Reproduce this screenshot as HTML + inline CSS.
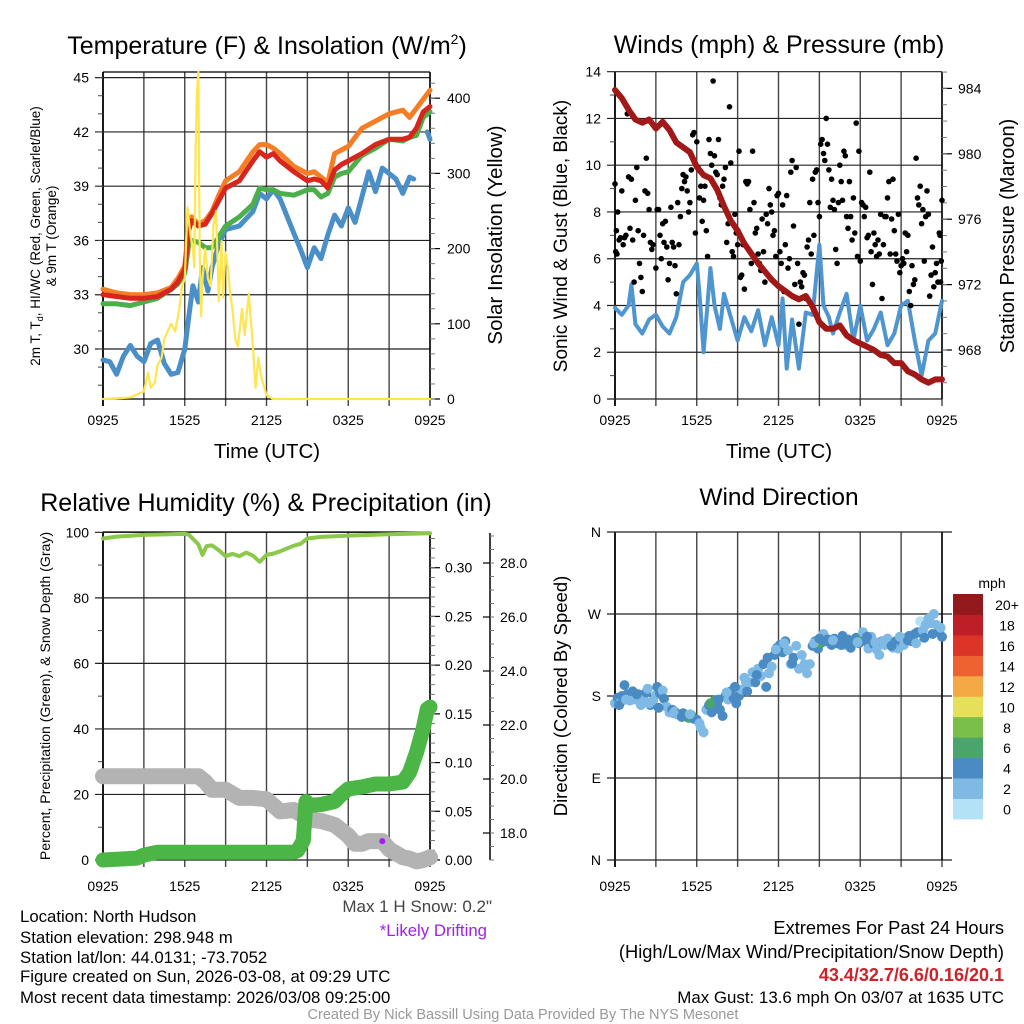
<!DOCTYPE html>
<html><head><meta charset="utf-8"><style>
html,body{margin:0;padding:0;background:#fff;}
svg{display:block;font-family:"Liberation Sans",Arial,sans-serif;}
</style></head><body>
<svg id="fig" width="1024" height="1024" viewBox="0 0 1024 1024" xmlns="http://www.w3.org/2000/svg">
<g id="static">
<text x="267" y="54" font-size="25" text-anchor="middle">Temperature (F) &amp; Insolation (W/m<tspan font-size="14" dy="-10">2</tspan><tspan dy="10">)</tspan></text>
<text x="779" y="53" font-size="25" text-anchor="middle">Winds (mph) &amp; Pressure (mb)</text>
<text x="266" y="511" font-size="25" text-anchor="middle">Relative Humidity (%) &amp; Precipitation (in)</text>
<text x="779" y="505" font-size="24.5" text-anchor="middle">Wind Direction</text>
<text x="267" y="458" font-size="20.5" text-anchor="middle">Time (UTC)</text>
<text x="779" y="458" font-size="20.5" text-anchor="middle">Time (UTC)</text>
<text transform="translate(40,236) rotate(-90)" font-size="13.5" text-anchor="middle">2m T, T<tspan font-size="9" dy="3">d</tspan><tspan dy="-3">, HI/WC (Red, Green, Scarlet/Blue)</tspan></text>
<text transform="translate(56,236) rotate(-90)" font-size="13.5" text-anchor="middle">&amp; 9m T (Orange)</text>
<text transform="translate(502,235) rotate(-90)" font-size="20.5" text-anchor="middle">Solar Insolation (Yellow)</text>
<text transform="translate(567,236) rotate(-90)" font-size="19" text-anchor="middle">Sonic Wind &amp; Gust (Blue, Black)</text>
<text transform="translate(1014,236) rotate(-90)" font-size="20" text-anchor="middle">Station Pressure (Maroon)</text>
<text transform="translate(50,696) rotate(-90)" font-size="14.1" text-anchor="middle">Percent, Precipitation (Green), &amp; Snow Depth (Gray)</text>
<text transform="translate(567,696) rotate(-90)" font-size="18.5" text-anchor="middle">Direction (Colored By Speed)</text>
<text x="992" y="588" font-size="14" text-anchor="middle">mph</text>
<text x="492" y="912" font-size="17" text-anchor="end" fill="#444">Max 1 H Snow: 0.2"</text>
<text x="487" y="936" font-size="16.8" text-anchor="end" fill="#a020f0">*Likely Drifting</text>
<g font-size="16.8">
<text x="20" y="922">Location: North Hudson</text>
<text x="20" y="943">Station elevation: 298.948 m</text>
<text x="20" y="963">Station lat/lon: 44.0131; -73.7052</text>
<text x="20" y="982">Figure created on Sun, 2026-03-08, at 09:29 UTC</text>
<text x="20" y="1003">Most recent data timestamp: 2026/03/08 09:25:00</text>
</g>
<g text-anchor="end">
<text x="1004" y="934" font-size="18.3">Extremes For Past 24 Hours</text>
<text x="1004" y="958" font-size="18.3">(High/Low/Max Wind/Precipitation/Snow Depth)</text>
<text x="1004" y="981" font-size="18" fill="#cc2229" font-weight="bold">43.4/32.7/6.6/0.16/20.1</text>
<text x="1004" y="1003" font-size="16.9">Max Gust: 13.6 mph On 03/07 at 1635 UTC</text>
</g>
<text x="523" y="1019" font-size="14.5" text-anchor="middle" fill="#999">Created By Nick Bassill Using Data Provided By The NYS Mesonet</text>
</g>
</svg>
<script>
// ---------- data ----------
const tempHours = [0,1,2,3,4,5,5.5,6,6.3,6.5,7,7.5,8,8.5,9,10,11,11.5,12,12.5,13,14,15,15.5,16,16.5,17,17.5,18,19,20,21,22,22.5,23,23.5,24];
const temp2m = [33.0,32.9,32.8,32.8,32.9,33.3,33.7,34.4,36.6,37.1,36.8,36.9,37.5,38.2,38.9,39.3,40.4,40.9,40.6,40.8,40.4,39.8,39.3,39.4,39.3,38.9,39.9,40.2,40.4,40.8,41.3,41.6,41.6,41.7,42.2,43.1,43.4];
const temp9m = [33.3,33.1,33.0,33.0,33.1,33.4,33.9,34.6,36.8,37.3,36.9,37.1,37.6,38.5,39.3,39.8,40.9,41.3,41.3,41.1,40.8,40.1,39.7,39.8,39.5,39.2,40.8,41.0,41.2,42.2,42.6,43.0,43.2,42.8,43.3,43.8,44.3];
const dewpoint = [32.5,32.5,32.4,32.6,32.8,33.3,33.6,34.2,35.8,36.0,35.9,35.6,35.6,36.2,36.8,37.3,38.0,38.9,38.8,38.8,38.6,38.5,38.8,38.8,38.4,38.6,39.5,39.7,39.8,40.7,41.1,41.6,41.5,41.7,41.8,42.8,43.1];
const wcHours = [0,0.5,1,1.5,2,2.5,3,3.5,4,4.5,5,5.5,6,6.3,6.6,7,7.3,7.7,8,8.5,9,10,11,11.5,12,12.5,13,14,14.5,15,15.5,16,16.5,17,17.5,18,18.5,19,19.5,20,20.5,21,21.5,22,22.5,22.8,null,23.8,24];
const windChill = [29.4,29.3,28.6,29.6,30.2,29.6,29.3,30.3,30.5,29.2,28.6,28.7,30.0,31.8,33.5,32.6,34.5,33.2,34.5,35.8,36.6,36.8,37.6,38.6,38.3,38.8,38.3,36.4,35.5,34.5,35.6,35.0,36.3,37.4,36.8,37.8,37.0,38.4,39.8,38.7,40.0,39.7,39.4,38.6,39.5,39.4,null,42.0,41.6];
const solarHours = [0,2,3,3.3,3.5,3.8,4,4.3,4.5,5,5.3,5.6,5.8,6,6.2,6.4,6.6,6.7,6.8,6.9,7.0,7.05,7.1,7.2,7.3,7.5,7.7,7.9,8.1,8.3,8.5,8.7,8.8,9.0,9.2,9.3,9.5,9.7,9.9,10.2,10.4,10.7,11,11.2,11.4,11.6,12,12.5,24];
const solar = [0,2,10,35,15,22,45,55,80,100,90,120,150,160,255,220,200,175,330,410,435,300,200,110,160,200,160,150,230,250,130,210,135,195,170,145,120,80,70,120,85,140,70,15,55,30,5,0,0];
const windHours = [0,0.5,1,1.2,1.5,2,2.5,3,3.5,4,4.5,5,5.5,6,6.2,6.5,7,7.3,7.7,8,8.5,9,9.5,10,10.5,11,11.5,12,12.3,12.6,13,13.5,14,14.5,15,15.3,15.7,16,16.5,17,17.5,18,18.5,19,19.5,20,20.5,21,21.5,22,22.5,23,23.5,24];
const windSpeed = [3.9,3.6,4.0,4.9,3.2,2.8,3.4,3.6,3.1,2.8,3.5,5.0,5.3,5.8,4.5,2.0,5.6,4.0,3.0,4.5,3.5,2.5,3.5,2.9,3.8,2.3,3.5,2.3,4.3,1.3,3.4,1.3,3.7,3.6,6.6,4.0,3.5,2.8,3.7,4.5,2.5,4.0,2.5,3.0,3.7,2.3,2.8,4.0,4.2,2.5,1.0,2.5,2.8,4.2];
const presHours = [0,0.5,1,1.5,2,2.5,3,3.5,4,4.5,5,5.5,6,6.5,7,7.5,8,8.5,9,9.5,10,10.5,11,11.5,12,12.5,13,13.5,14,14.5,15,15.5,16,16.5,17,17.5,18,18.5,19,19.5,20,20.5,21,21.5,22,22.5,23,23.5,24];
const pressure = [983.9,983.4,982.7,982.1,981.9,982.1,981.55,981.96,981.45,980.7,980.4,980.1,979.2,978.7,978.5,977.8,976.8,975.9,975.3,974.5,973.9,973.3,972.8,972.3,971.9,971.6,971.3,971.1,971.3,970.65,969.7,969.3,969.3,969.5,968.9,968.6,968.4,968.2,968.0,967.7,967.6,967.2,967.2,966.7,966.5,966.2,966.0,966.2,966.2];
const gustHours = [0,0.05,0.1,0.15,0.2,0.3,0.4,0.5,0.6,0.7,0.8,0.9,1.0,1.1,1.2,1.3,1.4,1.5,1.6,1.7,1.8,1.9,2.0,2.1,2.2,2.3,2.4,2.5,2.6,2.7,2.8,3.0,3.1,3.2,3.3,3.4,3.5,3.6,3.7,3.8,3.9,4.0,4.1,4.2,4.3,4.4,4.5,4.6,4.7,4.8,4.9,5.0,5.1,5.2,5.3,5.4,5.5,5.6,5.7,5.8,5.9,6.0,6.1,6.2,6.3,6.4,6.5,6.6,6.7,6.8,6.9,7.0,7.1,7.2,7.3,7.4,7.5,7.6,7.7,7.8,7.9,8.0,8.1,8.2,8.3,8.4,8.5,8.6,8.7,8.8,8.9,9.0,9.1,9.2,9.3,9.4,9.5,9.6,9.7,9.8,9.9,10.0,10.1,10.2,10.3,10.4,10.5,10.6,10.7,10.8,10.9,11.0,11.1,11.2,11.3,11.4,11.5,11.6,11.7,11.8,11.9,12.0,12.1,12.2,12.3,12.4,12.5,12.6,12.7,12.8,12.9,13.0,13.1,13.2,13.3,13.4,13.5,13.6,13.7,13.8,13.9,14.0,14.1,14.2,14.3,14.4,14.5,14.6,14.7,14.8,14.9,15.0,15.1,15.2,15.3,15.4,15.5,15.6,15.7,15.8,15.9,16.0,16.1,16.2,16.3,16.4,16.5,16.6,16.7,16.8,16.9,17.0,17.1,17.2,17.3,17.4,17.5,17.6,17.7,17.8,17.9,18.0,18.1,18.2,18.3,18.4,18.5,18.6,18.7,18.8,18.9,19.0,19.1,19.2,19.3,19.4,19.5,19.6,19.7,19.8,19.9,20.0,20.1,20.2,20.3,20.4,20.5,20.6,20.7,20.8,20.9,21.0,21.1,21.2,21.3,21.4,21.5,21.6,21.7,21.8,21.9,22.0,22.1,22.2,22.3,22.4,22.5,22.6,22.7,22.8,22.9,23.0,23.1,23.2,23.3,23.4,23.5,23.6,23.7,23.8,23.85,23.9,23.95,24.0];
const gust = [9.2,6.3,7.2,6.2,8.0,6.8,6.9,8.9,6.6,6.9,7.0,12.2,9.5,7.3,9.4,6.8,5.0,8.5,9.9,7.2,5.8,5.2,4.6,7.0,8.9,10.3,8.8,8.1,6.7,6.4,6.6,5.6,8.1,8.1,7.0,6.0,7.5,6.7,7.6,6.5,5.1,5.8,8.2,6.7,6.5,5.7,4.5,8.4,6.6,7.8,9.0,9.6,9.3,9.5,8.9,8.0,8.4,9.8,11.3,11.4,7.1,11.0,9.9,8.6,9.1,7.6,8.5,9.1,7.2,6.1,11.1,10.5,10.0,13.6,10.4,9.7,9.6,11.1,8.6,8.3,9.1,9.4,9.9,6.7,7.5,12.5,10.1,6.3,6.1,7.9,7.1,6.6,10.6,5.2,5.3,6.6,4.7,9.3,9.2,9.3,8.1,5.8,10.6,8.4,7.1,7.3,6.2,5.8,5.5,7.7,6.3,5.0,7.9,7.5,9.0,8.3,8.0,7.0,7.2,6.1,8.7,8.8,6.3,5.8,8.3,4.6,6.6,8.7,5.6,6.0,9.7,10.2,7.4,4.9,9.9,5.8,3.2,5.0,4.8,5.4,5.3,4.3,6.5,6.8,8.4,6.2,9.4,7.0,9.7,9.8,8.4,7.8,10.9,11.1,10.5,10.2,12.0,10.9,9.8,8.2,9.4,8.5,8.1,6.4,5.8,8.4,10.0,9.3,8.5,10.6,10.4,7.8,7.3,9.3,7.8,6.8,8.6,7.1,11.8,6.1,10.6,5.9,8.4,8.3,7.8,8.2,6.9,7.0,9.7,6.3,4.9,7.1,6.6,6.1,6.8,6.2,7.9,4.3,6.6,7.8,7.8,8.6,9.3,6.2,7.7,9.4,7.2,6.2,5.9,7.9,5.4,5.7,6.0,5.8,7.1,6.3,7.0,4.6,4.0,5.7,4.9,5.1,10.3,8.6,8.3,9.1,7.5,8.1,5.9,7.8,8.9,7.9,4.4,5.3,6.5,4.8,5.4,5.8,5.0,7.1,7.0,5.0,5.9,8.5];
const rhHours = [0,1,3,6,6.3,7,7.3,7.6,8,8.5,9,9.5,10,10.5,11,11.5,12,12.5,13,14,14.5,15,16,18,21,24];
const rh = [98.1,98.7,99.2,99.5,99.3,96.3,93.1,95.8,96.0,94.5,92.7,93.4,92.7,93.8,92.9,91.0,93.1,93.5,94.2,95.9,96.5,98.1,98.6,99.0,99.4,99.7];
const precipHours = [0,2.5,3,4,14,14.3,14.7,14.8,14.9,15.2,16,17,17.5,18,19,20,21,22,22.5,23,23.5,23.8,24];
const precip = [0,0.002,0.005,0.008,0.008,0.01,0.02,0.04,0.06,0.056,0.057,0.06,0.067,0.073,0.075,0.078,0.078,0.08,0.09,0.11,0.135,0.155,0.157];
const snowHours = [0,7,7.5,8,9,10,11,12,13,14,14.5,15,16,17,18,18.5,19,19.5,20,20.5,21,22,22.5,23,23.5,24];
const snowDepth = [20.1,20.1,19.9,19.6,19.6,19.3,19.3,19.25,18.8,18.85,18.7,18.5,18.45,18.3,17.9,17.6,17.6,17.7,17.7,17.7,17.4,17.1,17.05,16.95,17.0,17.1];
const driftHours = [20.5];
const driftDepth = [17.7];
const dirHours = [0,0.2,0.4,0.5,0.7,0.9,1.1,1.3,1.5,1.7,1.9,2.1,2.3,2.4,2.6,2.8,3.0,3.1,3.3,3.5,3.6,3.8,4.0,4.2,4.4,4.6,4.8,5.0,5.2,5.4,5.6,5.8,6.0,6.2,6.3,6.5,6.7,6.9,7.1,7.3,7.5,7.7,7.9,8.1,8.3,8.5,8.7,8.9,9.1,9.3,9.5,9.7,9.9,10.1,10.3,10.5,10.7,10.9,11.1,11.3,11.5,11.7,11.9,12.1,12.3,12.5,12.7,12.9,13.1,13.3,13.5,13.7,13.9,14.1,14.3,14.5,14.7,14.9,15.1,15.3,15.5,15.7,15.9,16.1,16.3,16.5,16.7,16.9,17.1,17.3,17.5,17.7,17.9,18.0,18.2,18.4,18.6,18.8,19.0,19.2,19.4,19.6,19.8,20.0,20.2,20.4,20.6,20.8,21.0,21.2,21.4,21.6,21.8,22.0,22.2,22.4,22.6,22.8,23.0,23.2,23.4,23.6,23.8,24,0.3,0.8,1.6,2.5,3.2,4.3,4.9,5.5,7.0,7.6,8.2,8.8,9.6,10.4,11.2,11.8,12.4,13.0,14.6,15.0,15.6,16.0,16.6,17.2,17.8,18.5,19.1,19.7,20.3,20.9,21.5,22.1,22.7,23.3,23.9];
const dirDeg = [172,178,173,180,192,182,175,185,176,182,170,178,184,188,170,175,181,190,183,186,177,168,162,165,163,160,158,161,158,156,159,155,154,150,145,140,165,170,162,175,170,165,158,180,176,185,178,172,180,187,200,185,195,206,195,210,202,215,190,205,212,225,233,236,228,240,230,215,222,235,210,225,215,205,215,235,240,232,238,248,240,242,236,243,238,240,246,236,242,233,240,244,238,241,250,240,232,245,237,231,225,240,236,243,238,233,240,232,240,236,244,246,240,248,250,262,252,258,265,260,270,258,250,245,170,176,182,172,167,161,157,160,172,176,184,190,196,203,222,231,238,216,238,243,242,241,236,237,239,245,239,240,235,245,241,238,244,248,255];
const dirSpeed = [3,4,3,4,4,4,2,4,3,4,2,3,4,2,4,3,3,4,4,2,4,2,3,4,2,4,3,4,6,6,6,4,4,2,2,2,3,4,4,6,4,4,4,4,2,4,4,4,4,2,2,4,2,3,4,2,2,4,4,2,2,4,4,4,4,4,2,2,4,2,3,2,2,2,2,4,4,4,6,2,4,2,4,4,4,4,4,2,4,4,4,4,4,6,2,4,2,2,4,2,2,4,2,3,2,2,4,3,4,2,3,4,4,4,4,1,2,2,2,2,2,2,4,4,4,2,4,2,4,3,4,2,6,4,2,4,2,4,4,2,2,4,2,4,4,2,4,4,2,4,2,3,4,2,4,2,4,4,2];
const colorbarLabels = ["0","2","4","6","8","10","12","14","16","18","20+"];
const colorbarColors = ["#b3e1f6","#7fbae5","#4a8bc4","#4aa56d","#7bbf4b","#e5df5a","#f5a946","#ee6130","#dc3426","#be1e26","#921a1d"];
const timeLabels = ["0925","1525","2125","0325","0925"];
const tempTicks = [30,33,36,39,42,45];
const solarTicks = [0,100,200,300,400];
const windTicks = [0,2,4,6,8,10,12,14];
const presTicks = [968,972,976,980,984];
const rhTicks = [0,20,40,60,80,100];
const precipTicks = [0,0.05,0.10,0.15,0.20,0.25,0.30];
const snowTicks = [18,20,22,24,26,28];
const dirTicks = ["N","E","S","W","N"];

// ---------- helpers ----------
const NS = "http://www.w3.org/2000/svg";
const svg = document.getElementById("fig");
function mk(tag, attrs, parent) {
  const e = document.createElementNS(NS, tag);
  for (const k in attrs) e.setAttribute(k, attrs[k]);
  (parent || svg).appendChild(e);
  return e;
}
function xs(x0) { return h => x0 + h / 24 * 327; }
const yTemp = t => 349 - (t - 30) * 18.09;
const ySolar = w => 399 - w * 0.752;
const yWind = m => 399 - m * 23.38;
const yPres = p => 350 - (p - 968) * 16.35;
const yRh = v => 860 - v * 3.277;
const yPrecip = p => 860 - p * 974.3;
const ySnow = s => 860 - (s - 17) * 27;
const yDir = d => 860 - d / 360 * 328;

function pathD(hs, vs, fx, fy) {
  let d = "", pen = false;
  for (let i = 0; i < hs.length; i++) {
    if (hs[i] === null || vs[i] === null) { pen = false; continue; }
    d += (pen ? "L" : "M") + fx(hs[i]).toFixed(1) + " " + fy(vs[i]).toFixed(1);
    pen = true;
  }
  return d;
}
function frame(x0, top, bottom, name, hGridVals, yf, hGridLabels, leftMinor, minorY) {
  const g = mk("g", {});
  
  
  for (let i = 0; i <= 8; i++) {
    const x = x0 + i * 327 / 8;
    const ln = mk("line", {x1: x, y1: top, x2: x, y2: bottom + 7, stroke: (i === 0 ? "#000" : "#444"), "stroke-width": (i === 0 ? 1.8 : 1.4)}, g);
    
    
    if (i % 2 === 0) {
      const t = mk("text", {x: x, y: 425, "font-size": 14, "text-anchor": "middle"}, g);
      
      
      t.textContent = timeLabels[i / 2];
      if (top > 450) t.setAttribute("y", 891);
    }
  }
  hGridVals.forEach((v, i) => {
    const y = yf(v);
    const ln = mk("line", {x1: x0 - 8, y1: y, x2: x0 + 327 + (hGridLabels.ext || 0), y2: y, stroke: "#222", "stroke-width": 1.2}, g);
    
    
    const t = mk("text", {x: x0 - 14, y: y + 5, "font-size": 14, "text-anchor": "end"}, g);
    
    
    t.textContent = hGridLabels.labels[i];
  });
  (minorY || []).forEach(y => {
    const ln = mk("line", {x1: x0 - 5, y1: y, x2: x0, y2: y, stroke: "#444", "stroke-width": 1}, g);
    
    
  });
  const r = mk("line", {x1: x0 + 327, y1: top, x2: x0 + 327, y2: bottom, stroke: "#000", "stroke-width": 1.5}, g);
  
  
  return g;
}
function rightAxis(x, vals, yf, labels, minorVals, name, labelX) {
  const g = mk("g", {});
  
  
  vals.forEach((v, i) => {
    const ln = mk("line", {x1: x, y1: yf(v), x2: x + 10, y2: yf(v), stroke: "#000", "stroke-width": 1.2}, g);
    
    
    const t = mk("text", {x: labelX, y: yf(v) + 5, "font-size": 14}, g);
    
    
    t.textContent = labels[i];
  });
  minorVals.forEach(v => {
    const ln = mk("line", {x1: x, y1: yf(v), x2: x + 5, y2: yf(v), stroke: "#777", "stroke-width": 1}, g);
    
    
  });
}
function line(hs, vs, fx, fy, color, w, name) {
  const p = mk("path", {d: pathD(hs, vs, fx, fy), fill: "none", stroke: color, "stroke-width": w, "stroke-linejoin": "round", "stroke-linecap": "round"});
  
  
  return p;
}
function range(a, b, s) { const r = []; for (let v = a; v <= b + 1e-9; v += s) r.push(+v.toFixed(4)); return r; }

// ---------- panel 1: temperature ----------
{
  const X = xs(103);
  const minor = range(28, 45, 1).map(yTemp);
  frame(103, 72, 399, "temp", tempTicks, yTemp, {labels: tempTicks.map(String)}, true, minor);
  const tl = mk("line", {x1: 103, y1: 72, x2: 430, y2: 72, stroke: "#000", "stroke-width": 1.2});
  
  
  const bl = mk("line", {x1: 103, y1: 399, x2: 430, y2: 399, stroke: "#000", "stroke-width": 1.2});
  
  
  rightAxis(430, solarTicks, ySolar, solarTicks.map(String), range(0, 420, 20), "solar-axis", 447);
  line(wcHours, windChill, X, yTemp, "#4a8fc8", 5, "windchill-line");
  line(tempHours, temp9m, X, yTemp, "#f47d26", 5, "temp-9m-line");
  line(tempHours, dewpoint, X, yTemp, "#4cb04a", 5, "dewpoint-line");
  line(tempHours, temp2m, X, yTemp, "#d7261e", 5, "temp-2m-line");
  line(solarHours, solar, X, ySolar, "#fde64f", 2.2, "solar-line");
}
// ---------- panel 2: winds ----------
{
  const X = xs(615);
  frame(615, 72, 399, "wind", windTicks, yWind, {labels: windTicks.map(String)}, true, range(1, 13, 2).map(yWind));
  rightAxis(942, presTicks, yPres, presTicks.map(String), range(966, 985, 1), "pressure-axis", 958);
  line(windHours, windSpeed, X, yWind, "#4f95cf", 4, "sustained-wind-line");
  const g = mk("g", {});
  
  
  gustHours.forEach((h, i) => {
    const c = mk("circle", {cx: X(h).toFixed(1), cy: yWind(gust[i]).toFixed(1), r: 2.8, fill: "#000"}, g);
    
    
  });
  line(presHours, pressure, X, yPres, "#a01818", 6, "pressure-line");
}
// ---------- panel 3: RH ----------
{
  const X = xs(103);
  frame(103, 532, 860, "rh", rhTicks, yRh, {labels: rhTicks.map(String)}, true, range(10, 90, 20).map(yRh));
  const tl = mk("line", {x1: 103, y1: 532, x2: 430, y2: 532, stroke: "#000", "stroke-width": 1.2});
  
  
  rightAxis(430, precipTicks, yPrecip, precipTicks.map(v => v.toFixed(2)), range(0, 0.33, 0.01), "precip-axis", 445);
  const ax = mk("line", {x1: 490, y1: 533, x2: 490, y2: 860, stroke: "#000", "stroke-width": 1.5});
  
  
  snowTicks.forEach(v => {
    const t1 = mk("line", {x1: 483, y1: ySnow(v), x2: 490, y2: ySnow(v), stroke: "#000", "stroke-width": 1.2});
    
    
    const t = mk("text", {x: 500, y: ySnow(v) + 5, "font-size": 14});
    
    
    t.textContent = v.toFixed(1);
  });
  range(17, 29, 0.5).forEach(v => {
    const t1 = mk("line", {x1: 490, y1: ySnow(v), x2: 494, y2: ySnow(v), stroke: "#777", "stroke-width": 1});
    
    
  });
  line(snowHours, snowDepth, X, ySnow, "#b3b3b3", 16, "snow-depth-line");
  driftHours.forEach((h, i) => {
    const c = mk("circle", {cx: X(h), cy: ySnow(driftDepth[i]), r: 3, fill: "#a020f0"});
    
    
  });
  line(precipHours, precip, X, yPrecip, "#4bb646", 15, "precip-line");
  line(rhHours, rh, X, yRh, "#8cc84b", 4, "rh-line");
}
// ---------- panel 4: direction ----------
{
  const X = xs(615);
  const dv = [0, 90, 180, 270, 360];
  frame(615, 532, 860, "direction", dv, yDir, {labels: dirTicks, ext: 10}, false, []);
  const g = mk("g", {});
  
  
  dirHours.forEach((h, i) => {
    const idx = Math.min(10, Math.floor(dirSpeed[i] / 2));
    const c = mk("circle", {cx: X(h).toFixed(1), cy: yDir(dirDeg[i]).toFixed(1), r: 5, fill: colorbarColors[idx]}, g);
    
    
  });
  const cb = mk("g", {});
  
  
  colorbarColors.forEach((c, i) => {
    const y = 819 - (i + 1) * 20.45;
    const r = mk("rect", {x: 953, y: y.toFixed(1), width: 30, height: 20.9, fill: c}, cb);
    
    
    const t = mk("text", {x: 1007, y: (y + 16).toFixed(1), "font-size": 14, "text-anchor": "middle"}, cb);
    
    
    t.textContent = colorbarLabels[i];
  });
}
</script>
</body></html>
